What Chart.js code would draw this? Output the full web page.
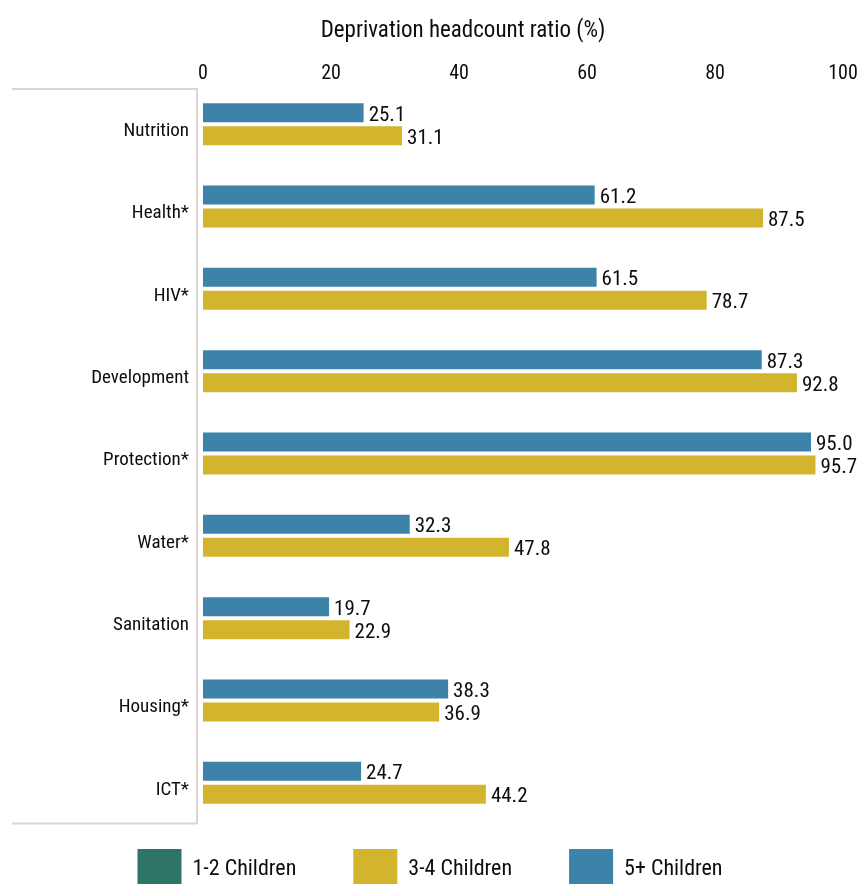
<!DOCTYPE html>
<html>
<head>
    <meta charset="UTF-8">
    <script src="https://cdn.jsdelivr.net/npm/chart.js@4.4.1/dist/chart.umd.min.js"></script>
    <style>
        html, body { margin:0; padding:0; background:#fff; overflow:hidden; }
        #wrap { width:860px; height:884px; position:relative; }
    </style>
</head>
<body>
<div id="wrap">
    <canvas id="barChart"></canvas>
</div>

<script>
    // data
    const categories = ['Nutrition', 'Health*', 'HIV*', 'Development', 'Protection*', 'Water*', 'Sanitation', 'Housing*', 'ICT*'];
    const children12 = [null, null, null, null, null, null, null, null, null];
    const children34 = [31.1, 87.5, 78.7, 92.8, 95.7, 47.8, 22.9, 36.9, 44.2];
    const children5plus = [25.1, 61.2, 61.5, 87.3, 95.0, 32.3, 19.7, 38.3, 24.7];
    const xTicks = [0, 20, 40, 60, 80, 100];
    const axisTitle = 'Deprivation headcount ratio (%)';

    const fontFamily = "'Roboto Condensed', 'Liberation Sans Narrow', 'Arial Narrow', 'DejaVu Sans Condensed', sans-serif";
    const textColor = '#0d0d0d';
    const frameColor = '#dcd4ce';

    const colorMap = {
        "1-2 Children": 'rgb(47, 117, 101)',
        "3-4 Children": 'rgb(211, 180, 45)',
        "5+ Children": 'rgb(61, 130, 169)'
    };

    // value labels next to every bar
    const valueLabels = {
        id: 'valueLabels',
        afterDatasetsDraw(chart) {
            const ctx = chart.ctx;
            ctx.save();
            ctx.font = '21px ' + fontFamily;
            ctx.fillStyle = textColor;
            ctx.textAlign = 'left';
            ctx.textBaseline = 'alphabetic';
            chart.data.datasets.forEach(function(ds, i) {
                const meta = chart.getDatasetMeta(i);
                meta.data.forEach(function(bar, j) {
                    const v = ds.data[j];
                    if (v == null) return;
                    ctx.fillText(v.toFixed(1), bar.x + 5, bar.y + 8);
                });
            });
            ctx.restore();
        }
    };

    // bracket round the category labels + the axis title
    const labelFrame = {
        id: 'labelFrame',
        beforeDraw(chart) {
            const a = chart.chartArea;
            const ctx = chart.ctx;
            const x = a.left - 6;
            const top = a.top + 6;
            const bottom = a.bottom - 0.5;
            ctx.save();
            ctx.strokeStyle = frameColor;
            ctx.lineWidth = 2;
            ctx.beginPath();
            ctx.moveTo(12, top);
            ctx.lineTo(x, top);
            ctx.lineTo(x, bottom);
            ctx.lineTo(12, bottom);
            ctx.stroke();

            ctx.font = '23px ' + fontFamily;
            ctx.fillStyle = textColor;
            ctx.textAlign = 'center';
            ctx.textBaseline = 'alphabetic';
            ctx.fillText(axisTitle, (a.left + a.right) / 2 - 60, 37);
            ctx.restore();
        }
    };

    // legend row at the bottom, centred
    const legendOrder = ['1-2 Children', '3-4 Children', '5+ Children'];
    const bottomLegend = {
        id: 'bottomLegend',
        afterDraw(chart) {
            const ctx = chart.ctx;
            const boxW = 44, boxH = 40, gap = 11, itemGap = 57;
            ctx.save();
            ctx.font = '22px ' + fontFamily;
            var widths = legendOrder.map(function(l) { return boxW + gap + ctx.measureText(l).width; });
            var total = widths.reduce(function(s, w) { return s + w; }, 0) + itemGap * (legendOrder.length - 1);
            var x = (chart.width - total) / 2;
            var y = chart.chartArea.bottom + 25;
            legendOrder.forEach(function(l, i) {
                ctx.fillStyle = colorMap[l];
                ctx.fillRect(x, y, boxW, boxH);
                ctx.fillStyle = textColor;
                ctx.textBaseline = 'alphabetic';
                ctx.textAlign = 'left';
                ctx.fillText(l, x + boxW + gap, y + 26);
                x += widths[i] + itemGap;
            });
            ctx.restore();
        }
    };

    const barChart = new Chart(document.getElementById('barChart'), {
        type: 'bar',
        data: {
            labels: categories,
            datasets: [
                { label: '5+ Children', data: children5plus, backgroundColor: colorMap['5+ Children'], borderWidth: 0 },
                { label: '3-4 Children', data: children34, backgroundColor: colorMap['3-4 Children'], borderWidth: 0 },
                { label: '1-2 Children', data: children12, backgroundColor: colorMap['1-2 Children'], borderWidth: 0, grouped: false }
            ]
        },
        options: {
            indexAxis: 'y',
            responsive: true,
            maintainAspectRatio: false,
            animation: false,
            categoryPercentage: 0.558,
            barPercentage: 0.826,
            layout: { padding: { left: 0, right: 17, top: 0, bottom: 60 } },
            plugins: {
                legend: { display: false },
                tooltip: { enabled: false }
            },
            scales: {
                x: {
                    position: 'top',
                    min: 0,
                    max: 100,
                    afterBuildTicks: function(scale) {
                        scale.ticks = xTicks.map(function(v) { return { value: v }; });
                    },
                    afterFit: function(scale) { scale.height = 83; },
                    grid: { display: false, drawTicks: false },
                    border: { display: false },
                    ticks: {
                        padding: -3,
                        color: textColor,
                        font: { family: fontFamily, size: 20 }
                    }
                },
                y: {
                    afterFit: function(scale) { scale.width = 203; },
                    grid: { display: false, drawTicks: false },
                    border: { display: false },
                    ticks: {
                        padding: 14,
                        labelOffset: 7,
                        color: textColor,
                        font: { family: fontFamily, size: 19 }
                    }
                }
            }
        },
        plugins: [labelFrame, valueLabels, bottomLegend]
    });
</script>
</body>
</html>
